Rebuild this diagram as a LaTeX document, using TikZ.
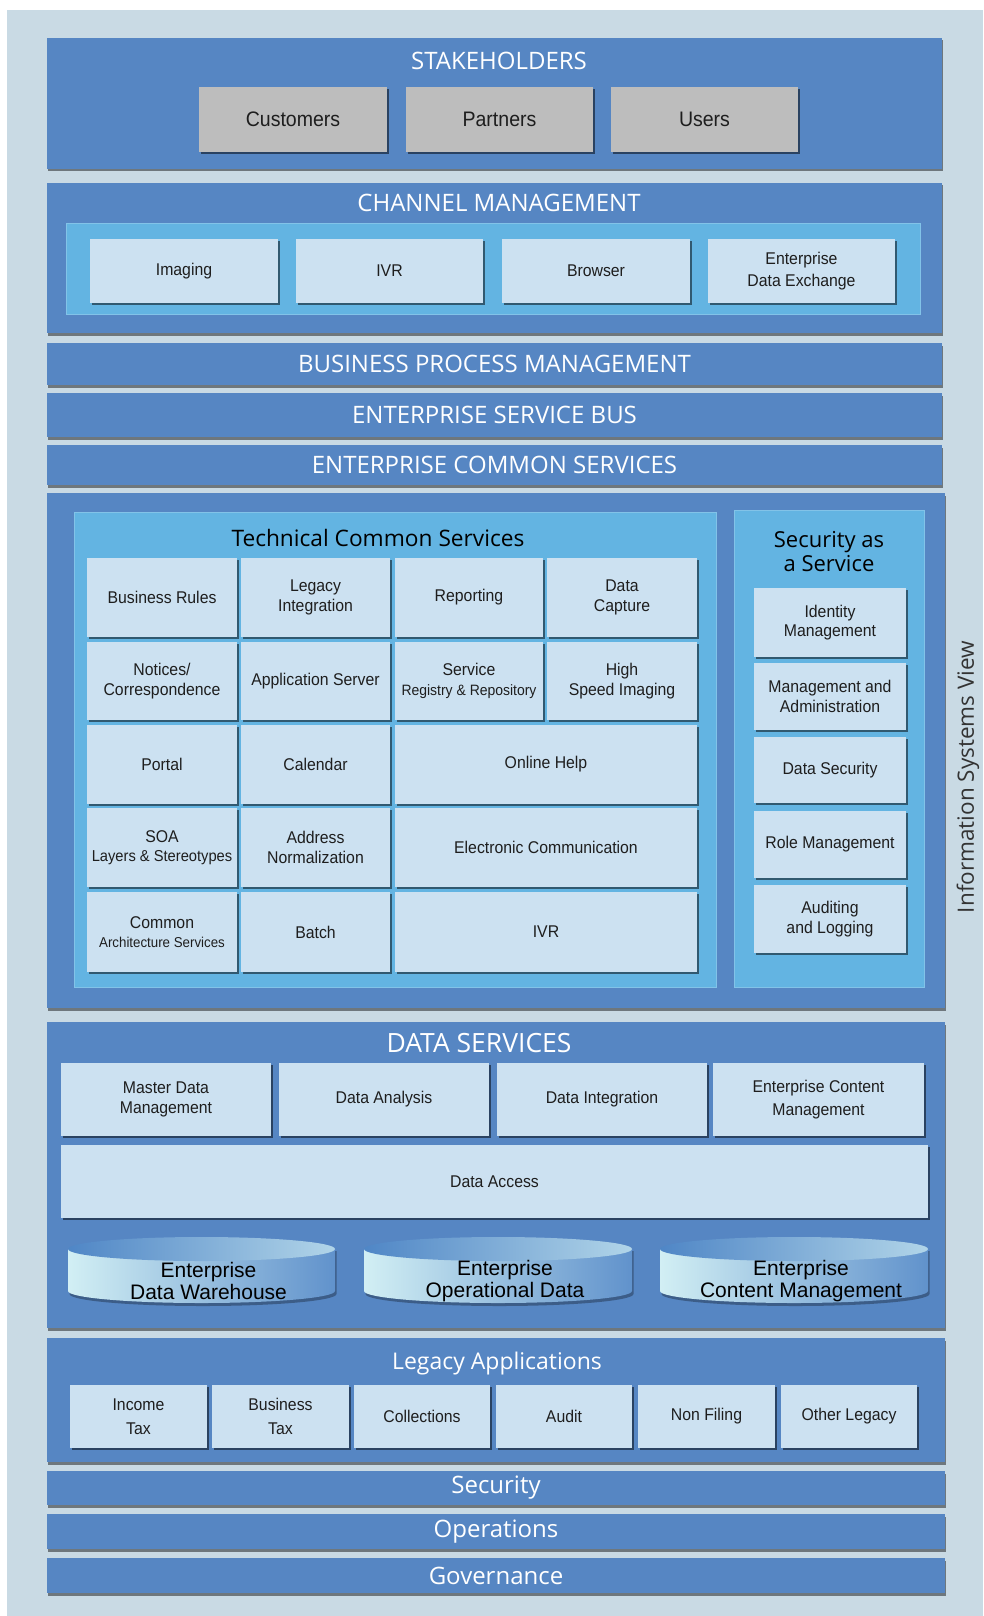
\documentclass[tikz,border=0pt]{standalone}
\usepackage{fontspec}
\setmainfont{Liberation Sans}[FakeStretch=0.93]
\newfontfamily\ttlfont{Open Sans}
\newfontfamily\cylfont{Liberation Sans}
\usetikzlibrary{shadows,calc}
\definecolor{panelc}{HTML}{C9DAE4}
\definecolor{bandc}{HTML}{5686C3}
\definecolor{innerc}{HTML}{63B4E2}
\definecolor{boxc}{HTML}{CCE1F1}
\definecolor{grayc}{HTML}{BDBDBD}
\definecolor{txtc}{HTML}{1E1E1E}
\definecolor{cyllight}{HTML}{D2EFF4}
\definecolor{cyldark}{HTML}{4F86C6}
\definecolor{isvc}{HTML}{333333}
\newcommand\bxfont{\fontsize{17}{19.5}\selectfont}
\newcommand\rbox[7]{\node[#1, minimum width={(#5-#3)*1pt}, minimum height={(#6-#4)*1pt}] (#2) at ({(#3+#5)/2},{(#4+#6)/2}) {#7};}
\newcommand\dbcyl[4]{%
  \pgfmathsetmacro\cxx{(#2+#3)/2}\pgfmathsetmacro\rxx{(#3-#2)/2}%
  \fill[black, opacity=0.3] (#2+1.5,1251) -- (#2+1.5,1294) arc[start angle=180, end angle=360, x radius=\rxx pt, y radius=12pt] -- (#3+1.5,1251) -- cycle;
  \shade[left color=cyllight, right color=cyldark!90!white] (#2,1249) -- (#2,1291) arc[start angle=180, end angle=360, x radius=\rxx pt, y radius=12pt] -- (#3,1249) -- cycle;
  \shade[left color=cyldark, right color=cyllight!75!cyldark] (\cxx,1249) ellipse[x radius=\rxx pt, y radius=12pt];
  \node[base, text=black, font=\cylfont\fontsize{21}{21.5}\selectfont] (#1) at (\cxx+7,1281) {#4};}
\tikzset{
  base/.style={inner sep=0pt, outer sep=0pt, align=center},
  panel/.style={base, fill=panelc},
  band/.style={base, fill=bandc, text=white, font=\ttlfont\fontsize{24}{26}\selectfont,
    drop shadow={shadow xshift=0.8pt, shadow yshift=-2.5pt, opacity=0.45, fill=black}},
  innerbox/.style={base, fill=innerc, draw=innerc!80!white, line width=0.8pt},
  lbox/.style={base, fill=boxc, text=txtc, font=\bxfont,
    drop shadow={shadow xshift=1.5pt, shadow yshift=-2pt, opacity=0.5, fill=black}},
  gbox/.style={lbox, fill=grayc},
  ttl/.style={base, text=white, font=\ttlfont\fontsize{24}{26}\selectfont},
  dttl/.style={base, text=black, font=\ttlfont\fontsize{22}{24}\selectfont},
}
\begin{document}
\begin{tikzpicture}[x=1pt, y=-1pt]
\useasboundingbox (0,0) rectangle (983,1616);
\rbox{panel}{bg}{7}{10}{983}{1616}{}
% stakeholders
\rbox{band}{stake}{47}{38}{942}{169}{}
\node[ttl] (staket) at (499,61) {STAKEHOLDERS};
\rbox{gbox}{cust}{199}{87}{387}{152}{\fontsize{21}{23}\selectfont Customers}
\rbox{gbox}{part}{406}{87}{593}{152}{\fontsize{21}{23}\selectfont Partners}
\rbox{gbox}{users}{611}{87}{798}{152}{\fontsize{21}{23}\selectfont Users}
% channel
\rbox{band}{chan}{47}{183}{942}{333}{}
\node[ttl] (chant) at (499,203) {CHANNEL MANAGEMENT};
\rbox{innerbox}{chanin}{66}{223}{920}{314}{}
\rbox{lbox}{imag}{90}{239}{278}{303}{Imaging}
\rbox{lbox}{ivra}{296}{239}{483}{303}{IVR}
\rbox{lbox}{brow}{502}{239}{690}{303}{Browser}
\rbox{lbox}{ede}{708}{239}{895}{303}{Enterprise\\[3pt]Data Exchange}
% thin bands
\rbox{band}{bpm}{47}{343}{942}{385}{BUSINESS PROCESS MANAGEMENT}
\rbox{band}{esb}{47}{393}{942}{437}{ENTERPRISE SERVICE BUS}
\rbox{band}{ecs}{47}{445}{942}{485}{ENTERPRISE COMMON SERVICES}
% common services
\rbox{band}{common}{47}{493}{945}{1008}{}
\rbox{innerbox}{tcs}{74}{512}{716}{987}{}
\node[dttl, font=\ttlfont\fontsize{22.7}{24}\selectfont] (tcst) at (378,538) {Technical Common Services};
\rbox{lbox}{c11}{87}{558}{237}{637}{Business Rules}
\rbox{lbox}{c12}{241}{558}{390}{637}{Legacy\\Integration}
\rbox{lbox}{c13}{395}{558}{543}{637}{Reporting}
\rbox{lbox}{c14}{547}{558}{697}{637}{Data\\Capture}
\rbox{lbox}{c21}{87}{642}{237}{720}{Notices/\\Correspondence}
\rbox{lbox}{c22}{241}{642}{390}{720}{Application Server}
\rbox{lbox}{c23}{395}{642}{543}{720}{Service\\{\fontsize{15}{17}\selectfont Registry \& Repository}}
\rbox{lbox}{c24}{547}{642}{697}{720}{High\\Speed Imaging}
\rbox{lbox}{c31}{87}{725}{237}{804}{Portal}
\rbox{lbox}{c32}{241}{725}{390}{804}{Calendar}
\rbox{lbox}{c33}{395}{725}{697}{804}{Online Help}
\rbox{lbox}{c41}{87}{808}{237}{887}{SOA\\{\fontsize{15.8}{17}\selectfont Layers \& Stereotypes}}
\rbox{lbox}{c42}{241}{808}{390}{887}{Address\\Normalization}
\rbox{lbox}{c43}{395}{808}{697}{887}{Electronic Communication}
\rbox{lbox}{c51}{87}{892}{237}{972}{Common\\{\fontsize{14.3}{17}\selectfont Architecture Services}}
\rbox{lbox}{c52}{241}{892}{390}{972}{Batch}
\rbox{lbox}{c53}{395}{892}{697}{972}{IVR}
% security as a service
\rbox{innerbox}{saas}{734}{510}{924}{987}{}
\node[dttl] (saast) at (829,552) {Security as\\a Service};
\rbox{lbox}{s1}{754}{588}{906}{657}{Identity\\Management}
\rbox{lbox}{s2}{754}{663}{906}{730}{Management and\\Administration}
\rbox{lbox}{s3}{754}{737}{906}{803}{Data Security}
\rbox{lbox}{s4}{754}{811}{906}{878}{Role Management}
\rbox{lbox}{s5}{754}{885}{906}{953}{Auditing\\and Logging}
% information systems view
\node[base, rotate=90, text=isvc, font=\ttlfont\fontsize{22.5}{25}\selectfont] (isv) at (968,777) {Information Systems View};
% data services
\rbox{band}{data}{47}{1022}{945}{1328}{}
\node[ttl, font=\ttlfont\fontsize{26.5}{28}\selectfont] (datat) at (479,1043) {DATA SERVICES};
\rbox{lbox}{d1}{61}{1063}{271}{1136}{Master Data\\Management}
\rbox{lbox}{d2}{279}{1063}{489}{1136}{Data Analysis}
\rbox{lbox}{d3}{497}{1063}{707}{1136}{Data Integration}
\rbox{lbox}{d4}{713}{1063}{924}{1136}{Enterprise Content\\[3pt]Management}
\rbox{lbox}{dacc}{61}{1145}{928}{1218}{Data Access}
\dbcyl{edw}{68}{335}{Enterprise\\Data Warehouse}
\dbcyl{eod}{364}{632}{Enterprise\\Operational Data}
\dbcyl{ecm}{660}{928}{Enterprise\\Content Management}
% legacy
\rbox{band}{legacy}{47}{1338}{945}{1462}{}
\node[ttl, font=\ttlfont\fontsize{23}{25}\selectfont] (legacyt) at (497,1364) {Legacy Applications};
\rbox{lbox}{l1}{70}{1385}{207}{1448}{Income\\[4pt]Tax}
\rbox{lbox}{l2}{212}{1385}{349}{1448}{Business\\[4pt]Tax}
\rbox{lbox}{l3}{354}{1385}{490}{1448}{Collections}
\rbox{lbox}{l4}{496}{1385}{632}{1448}{Audit}
\rbox{lbox}{l5}{638}{1385}{775}{1448}{Non Filing}
\rbox{lbox}{l6}{781}{1385}{917}{1448}{Other Legacy}
% bottom bands
\rbox{band}{sec}{47}{1471}{945}{1505}{Security}
\rbox{band}{ops}{47}{1514}{945}{1549}{Operations}
\rbox{band}{gov}{47}{1558}{945}{1593}{Governance}
\end{tikzpicture}
\end{document}
